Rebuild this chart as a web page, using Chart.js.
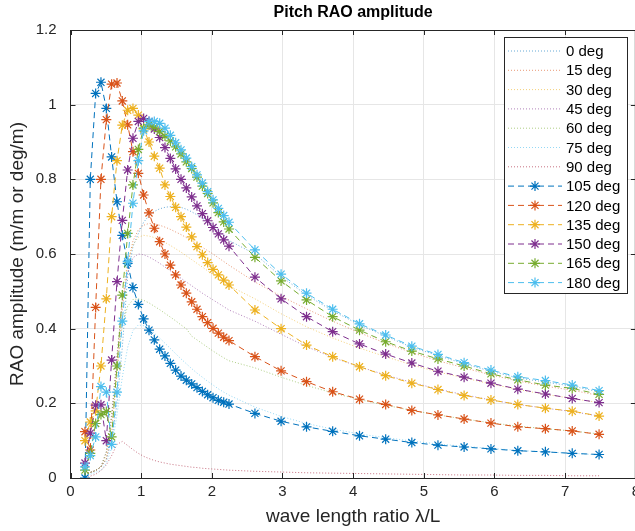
<!DOCTYPE html>
<html>
<head>
<meta charset="utf-8">
<title>Pitch RAO amplitude</title>
<script src="https://cdn.jsdelivr.net/npm/chart.js@4.4.0/dist/chart.umd.min.js"></script>
<style>
  html, body { margin: 0; padding: 0; background: #fff; overflow: hidden; }
  canvas { display: block; }
</style>
</head>
<body>
<canvas id="raoChart" width="645" height="531"></canvas>
<script>
// ======================
// Dados: razão de comprimento de onda e RAO de arfagem por rumo
// ======================
const lambdaRatio = [
  0.205, 0.28, 0.356, 0.431, 0.507, 0.582, 0.658, 0.733, 0.809, 0.884,
  0.96, 1.035, 1.111, 1.186, 1.262, 1.337, 1.413, 1.488, 1.564, 1.639,
  1.715, 1.79, 1.866, 1.941, 2.017, 2.092, 2.168, 2.243,
  2.61, 2.98, 3.34, 3.71, 4.09, 4.46, 4.83, 5.2, 5.57, 5.95, 6.33, 6.72, 7.1, 7.48
];

const headings = [0, 15, 30, 45, 60, 75, 90, 105, 120, 135, 150, 165, 180];

const rao0 = [
  0.01, 0.015, 0.02, 0.03, 0.05, 0.10, 0.20, 0.35, 0.54, 0.62,
  0.655, 0.685, 0.703, 0.714, 0.721, 0.725, 0.727, 0.727, 0.725, 0.72,
  0.713, 0.705, 0.696, 0.688, 0.678, 0.665, 0.651, 0.636,
  0.60, 0.54, 0.49, 0.448, 0.41, 0.38, 0.35, 0.328, 0.306, 0.286, 0.268, 0.257, 0.246, 0.231
];
const rao15 = [
  0.01, 0.015, 0.02, 0.03, 0.05, 0.12, 0.28, 0.45, 0.57, 0.635,
  0.665, 0.677, 0.682, 0.681, 0.677, 0.672, 0.666, 0.659, 0.652, 0.644,
  0.636, 0.627, 0.618, 0.609, 0.60, 0.59, 0.58, 0.57,
  0.525, 0.487, 0.453, 0.42, 0.389, 0.361, 0.336, 0.314, 0.295, 0.276, 0.26, 0.246, 0.235, 0.221
];
const rao30 = [
  0.01, 0.015, 0.02, 0.03, 0.06, 0.15, 0.32, 0.48, 0.58, 0.625,
  0.645, 0.65, 0.648, 0.644, 0.638, 0.631, 0.623, 0.614, 0.605, 0.595,
  0.585, 0.575, 0.565, 0.555, 0.545, 0.535, 0.525, 0.515,
  0.48, 0.44, 0.405, 0.375, 0.348, 0.325, 0.303, 0.284, 0.268, 0.252, 0.237, 0.224, 0.213, 0.202
];
const rao45 = [
  0.01, 0.015, 0.02, 0.03, 0.07, 0.17, 0.33, 0.47, 0.55, 0.59,
  0.60, 0.598, 0.592, 0.584, 0.575, 0.565, 0.555, 0.545, 0.535, 0.525,
  0.515, 0.505, 0.495, 0.486, 0.477, 0.468, 0.459, 0.45,
  0.42, 0.385, 0.352, 0.323, 0.298, 0.276, 0.256, 0.238, 0.223, 0.209, 0.197, 0.187, 0.178, 0.166
];
const rao60 = [
  0.01, 0.015, 0.02, 0.03, 0.07, 0.16, 0.30, 0.41, 0.46, 0.478,
  0.48, 0.476, 0.469, 0.46, 0.451, 0.441, 0.431, 0.421, 0.41, 0.40,
  0.38, 0.37, 0.36, 0.35, 0.34, 0.331, 0.322, 0.314,
  0.295, 0.27, 0.248, 0.228, 0.21, 0.195, 0.181, 0.169, 0.158, 0.148, 0.139, 0.132, 0.126, 0.118
];
const rao75 = [
  0.005, 0.01, 0.015, 0.02, 0.04, 0.08, 0.17, 0.27, 0.35, 0.395,
  0.41, 0.408, 0.40, 0.388, 0.375, 0.361, 0.347, 0.333, 0.319, 0.306,
  0.293, 0.281, 0.27, 0.259, 0.249, 0.239, 0.23, 0.222,
  0.19, 0.165, 0.146, 0.131, 0.118, 0.108, 0.099, 0.091, 0.085, 0.079, 0.074, 0.07, 0.066, 0.062
];
const rao90 = [
  0.0, 0.005, 0.01, 0.02, 0.035, 0.06, 0.09, 0.098, 0.087, 0.076,
  0.066, 0.058, 0.052, 0.047, 0.043, 0.04, 0.037, 0.035, 0.033, 0.031,
  0.029, 0.028, 0.026, 0.025, 0.024, 0.023, 0.022, 0.021,
  0.018, 0.016, 0.014, 0.013, 0.012, 0.011, 0.010, 0.009, 0.008, 0.008, 0.007, 0.007, 0.006, 0.006
];
const rao105 = [
  0.0, 0.80, 1.03, 1.06, 0.99, 0.86, 0.74, 0.65, 0.575, 0.51,
  0.465, 0.426, 0.396, 0.37, 0.345, 0.327, 0.307, 0.289, 0.273, 0.262,
  0.252, 0.242, 0.232, 0.223, 0.215, 0.208, 0.203, 0.198,
  0.173, 0.152, 0.137, 0.125, 0.113, 0.104, 0.095, 0.088, 0.083, 0.078, 0.073, 0.070, 0.066, 0.063
];
const rao120 = [
  0.124, 0.075, 0.457, 0.80, 0.96, 1.055, 1.058, 1.01, 0.946, 0.874,
  0.816, 0.758, 0.71, 0.669, 0.633, 0.60, 0.57, 0.544, 0.517, 0.495,
  0.472, 0.452, 0.432, 0.416, 0.401, 0.388, 0.377, 0.368,
  0.325, 0.287, 0.258, 0.231, 0.211, 0.197, 0.181, 0.169, 0.158, 0.147, 0.137, 0.132, 0.126, 0.117
];
const rao135 = [
  0.10, 0.15, 0.18, 0.30, 0.48, 0.70, 0.85, 0.945, 0.985, 0.99,
  0.972, 0.935, 0.90, 0.862, 0.83, 0.785, 0.754, 0.725, 0.70, 0.672,
  0.646, 0.62, 0.598, 0.577, 0.559, 0.544, 0.53, 0.517,
  0.45, 0.40, 0.356, 0.325, 0.298, 0.274, 0.254, 0.237, 0.221, 0.209, 0.197, 0.187, 0.179, 0.166
];
const rao150 = [
  0.04, 0.12, 0.195, 0.196, 0.10, 0.316, 0.526, 0.69, 0.825, 0.91,
  0.955, 0.963, 0.955, 0.935, 0.912, 0.885, 0.856, 0.828, 0.80, 0.777,
  0.753, 0.729, 0.708, 0.689, 0.671, 0.654, 0.638, 0.621,
  0.538, 0.48, 0.432, 0.392, 0.359, 0.332, 0.308, 0.286, 0.27, 0.254, 0.238, 0.225, 0.213, 0.202
];
const rao165 = [
  0.021, 0.066, 0.146, 0.17, 0.178, 0.11, 0.30, 0.49, 0.655, 0.785,
  0.88, 0.937, 0.946, 0.94, 0.928, 0.916, 0.903, 0.887, 0.868, 0.847,
  0.829, 0.806, 0.782, 0.762, 0.737, 0.711, 0.686, 0.667,
  0.591, 0.528, 0.477, 0.432, 0.396, 0.365, 0.34, 0.319, 0.30, 0.279, 0.263, 0.249, 0.24, 0.224
];
const rao180 = [
  0.03, 0.06, 0.11, 0.245, 0.23, 0.09, 0.23, 0.42, 0.58, 0.736,
  0.85, 0.93, 0.955, 0.955, 0.95, 0.937, 0.918, 0.898, 0.879, 0.857,
  0.834, 0.812, 0.79, 0.767, 0.745, 0.722, 0.703, 0.685,
  0.611, 0.546, 0.495, 0.452, 0.413, 0.383, 0.353, 0.331, 0.309, 0.289, 0.271, 0.261, 0.249, 0.234
];

const raoByHeading = [rao0, rao15, rao30, rao45, rao60, rao75, rao90,
  rao105, rao120, rao135, rao150, rao165, rao180];

// ======================
// Estilo
// ======================
const FONT = '"Liberation Sans", Arial, Helvetica, sans-serif';
const INK = '#262626';
const lineColors = ['#0072BD', '#D95319', '#EDB120', '#7E2F8E', '#77AC30', '#4DBEEE', '#A2142F'];

function withAlpha(hex, a) {
  const n = parseInt(hex.slice(1), 16);
  return `rgba(${(n >> 16) & 255}, ${(n >> 8) & 255}, ${n & 255}, ${a})`;
}

const datasets = headings.map((h, i) => {
  const starred = h > 90;
  const color = lineColors[starred ? i - 7 : i];
  return {
    label: h + ' deg',
    data: lambdaRatio.map((x, k) => ({ x: x, y: raoByHeading[i][k] })),
    borderColor: starred ? color : withAlpha(color, 0.6),
    backgroundColor: color,
    borderWidth: 1,
    borderDash: starred ? [6, 4] : [1, 2],
    pointStyle: 'star',
    pointRadius: starred ? 5 : 0,
    pointHoverRadius: 0,
    pointBorderColor: color,
    pointBorderWidth: 1.2,
    tension: 0,
    fill: false,
    order: headings.length - i
  };
});

// ======================
// Moldura, título e legenda (estilo MATLAB)
// ======================
function drawStar(ctx, x, y, r) {
  ctx.beginPath();
  for (let a = 0; a < 4; a++) {
    const ang = a * Math.PI / 4;
    const dx = Math.cos(ang) * r, dy = Math.sin(ang) * r;
    ctx.moveTo(x - dx, y - dy);
    ctx.lineTo(x + dx, y + dy);
  }
  ctx.stroke();
}

const matlabFrame = {
  id: 'matlabFrame',
  afterDraw(chart) {
    const { ctx, chartArea: area, scales } = chart;
    ctx.save();

    // caixa e marcas internas
    ctx.strokeStyle = INK;
    ctx.lineWidth = 1;
    ctx.setLineDash([]);
    ctx.beginPath();
    ctx.moveTo(area.left, area.top + 0.5);
    ctx.lineTo(area.right, area.top + 0.5);
    ctx.moveTo(area.right - 0.5, area.top);
    ctx.lineTo(area.right - 0.5, area.bottom);
    scales.x.ticks.forEach(t => {
      const px = Math.round(scales.x.getPixelForValue(t.value)) + 0.5;
      ctx.moveTo(px, area.bottom); ctx.lineTo(px, area.bottom - 5);
      ctx.moveTo(px, area.top); ctx.lineTo(px, area.top + 5);
    });
    scales.y.ticks.forEach(t => {
      const py = Math.round(scales.y.getPixelForValue(t.value)) + 0.5;
      ctx.moveTo(area.left, py); ctx.lineTo(area.left + 5, py);
      ctx.moveTo(area.right, py); ctx.lineTo(area.right - 5, py);
    });
    ctx.stroke();

    // título
    ctx.fillStyle = '#000';
    ctx.font = 'bold 16px ' + FONT;
    ctx.textAlign = 'center';
    ctx.textBaseline = 'middle';
    ctx.fillText('Pitch RAO amplitude', (area.left + area.right) / 2, 13);

    // legenda
    const box = { left: 504, top: 37, width: 123, height: 256, row: 19.3 };
    ctx.fillStyle = '#fff';
    ctx.fillRect(box.left, box.top, box.width, box.height);
    ctx.strokeStyle = INK;
    ctx.strokeRect(box.left + 0.5, box.top + 0.5, box.width, box.height);
    ctx.font = '15px ' + FONT;
    ctx.textAlign = 'left';
    chart.data.datasets.forEach((ds, i) => {
      const y = box.top + 14 + i * box.row;
      ctx.strokeStyle = ds.borderColor;
      ctx.lineWidth = 1;
      ctx.setLineDash(ds.borderDash);
      ctx.beginPath();
      ctx.moveTo(box.left + 4, y);
      ctx.lineTo(box.left + 58, y);
      ctx.stroke();
      ctx.setLineDash([]);
      if (ds.pointRadius > 0) {
        ctx.strokeStyle = ds.pointBorderColor;
        ctx.lineWidth = ds.pointBorderWidth;
        drawStar(ctx, box.left + 31, y, ds.pointRadius);
      }
      ctx.fillStyle = '#000';
      ctx.fillText(ds.label, box.left + 62, y + 1);
    });

    ctx.restore();
  }
};

// ======================
// Gráfico
// ======================
const raoCtx = document.getElementById('raoChart').getContext('2d');
const raoChart = new Chart(raoCtx, {
  type: 'line',
  data: { datasets: datasets },
  options: {
    responsive: false,
    animation: false,
    events: [],
    layout: { padding: { top: 30, right: 8, left: 0, bottom: 0 } },
    plugins: {
      legend: { display: false },
      title: { display: false },
      tooltip: { enabled: false }
    },
    scales: {
      x: {
        type: 'linear',
        min: 0,
        max: 8,
        ticks: {
          stepSize: 1,
          autoSkip: false,
          maxRotation: 0,
          padding: 5,
          color: INK,
          font: { family: FONT, size: 15 }
        },
        grid: { color: '#e6e6e6', drawTicks: false },
        border: { color: INK, width: 1 },
        title: {
          display: true,
          text: 'wave length ratio λ/L',
          color: INK,
          font: { family: FONT, size: 19 },
          padding: { top: 0, bottom: 3 }
        },
        afterFit: scale => { scale.height = 53; }
      },
      y: {
        type: 'linear',
        min: 0,
        max: 1.2,
        ticks: {
          stepSize: 0.2,
          padding: 14,
          color: INK,
          font: { family: FONT, size: 15 },
          callback: v => String(+v.toFixed(1))
        },
        grid: { color: '#e6e6e6', drawTicks: false },
        border: { color: INK, width: 1 },
        title: {
          display: true,
          text: 'RAO amplitude (m/m or deg/m)',
          color: INK,
          font: { family: FONT, size: 19 },
          padding: { top: 6, bottom: 0 }
        },
        afterFit: scale => { scale.width = 70.5; }
      }
    }
  },
  plugins: [matlabFrame]
});
</script>
</body>
</html>
